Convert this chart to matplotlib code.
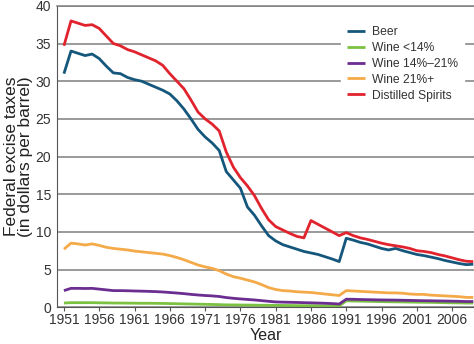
import matplotlib
matplotlib.use("Agg")
from matplotlib import pyplot as plt
import numpy as np

years = list(range(1951, 2010))

beer = [31.0, 34.0, 33.7, 33.4, 33.6, 33.0, 32.0, 31.1, 31.0, 30.5,
        30.2, 30.0, 29.6, 29.2, 28.8, 28.3, 27.4, 26.3, 25.0, 23.6,
        22.6, 21.8, 20.8, 18.0, 16.9, 15.8, 13.3, 12.2, 10.8, 9.5,
        8.8, 8.3, 8.0, 7.7, 7.4, 7.2, 7.0, 6.7, 6.4, 6.05,
        9.15, 8.9, 8.6, 8.4, 8.1, 7.8, 7.6, 7.8, 7.5, 7.25,
        7.0, 6.85, 6.65, 6.45, 6.2, 6.0, 5.8, 5.65, 5.7]

wine_lt14 = [0.55, 0.6, 0.6, 0.6, 0.6, 0.58, 0.57, 0.55, 0.55, 0.54,
             0.53, 0.52, 0.52, 0.51, 0.5, 0.48, 0.46, 0.44, 0.42, 0.4,
             0.38, 0.36, 0.34, 0.31, 0.3, 0.29, 0.28, 0.27, 0.26, 0.25,
             0.24, 0.23, 0.22, 0.21, 0.2, 0.2, 0.19, 0.18, 0.17, 0.16,
             0.85, 0.82, 0.8, 0.78, 0.76, 0.74, 0.72, 0.71, 0.7, 0.68,
             0.66, 0.65, 0.64, 0.62, 0.6, 0.58, 0.57, 0.55, 0.55]

wine_14_21 = [2.2, 2.5, 2.5, 2.48, 2.5, 2.4, 2.3, 2.2, 2.2, 2.18,
              2.15, 2.13, 2.1, 2.07, 2.02, 1.95, 1.88, 1.8, 1.7, 1.62,
              1.55, 1.5, 1.42, 1.28, 1.18, 1.1, 1.03, 0.96, 0.87, 0.78,
              0.7, 0.67, 0.65, 0.63, 0.6, 0.58, 0.55, 0.52, 0.48, 0.42,
              1.06, 1.05, 1.02, 1.0, 0.98, 0.96, 0.95, 0.94, 0.92, 0.9,
              0.88, 0.86, 0.85, 0.83, 0.82, 0.8, 0.78, 0.75, 0.75]

wine_21 = [7.7, 8.5, 8.4, 8.25, 8.4, 8.2, 7.95, 7.8, 7.7, 7.6,
           7.45, 7.35, 7.25, 7.15, 7.05, 6.85, 6.6, 6.3, 5.95, 5.6,
           5.35, 5.15, 4.85, 4.4, 4.05, 3.85, 3.6, 3.35, 3.0, 2.6,
           2.35, 2.2, 2.15, 2.05, 2.0, 1.95, 1.85, 1.75, 1.65, 1.55,
           2.2, 2.15, 2.1, 2.05, 2.0, 1.95, 1.9, 1.9, 1.85, 1.75,
           1.7, 1.7, 1.6, 1.55, 1.5, 1.45, 1.4, 1.3, 1.3]

spirits = [34.7, 38.0, 37.7, 37.4, 37.5, 37.0, 36.0, 35.0, 34.7, 34.2,
           33.9, 33.5, 33.1, 32.7, 32.1, 31.0, 30.0, 29.0, 27.5, 25.9,
           25.0, 24.3, 23.4, 20.6, 18.6, 17.2, 16.1, 14.8, 13.1, 11.6,
           10.7, 10.25, 9.8, 9.4, 9.2, 11.5, 11.0, 10.5, 10.0, 9.5,
           9.9, 9.5, 9.2, 9.0, 8.75, 8.5, 8.3, 8.15, 8.0, 7.8,
           7.5, 7.4, 7.25, 7.0, 6.8, 6.55, 6.3, 6.1, 6.05]

series = [("Beer", beer, "#15577c"),
          ("Wine <14%", wine_lt14, "#7cc242"),
          ("Wine 14%\u201321%", wine_14_21, "#6b2d8f"),
          ("Wine 21%+", wine_21, "#f4aa48"),
          ("Distilled Spirits", spirits, "#e1232e")]

xticks = list(range(1951, 2010, 5))
yticks = list(range(0, 45, 5))

plt.rcParams['font.family'] = ['Liberation Sans', 'DejaVu Sans']

fig = plt.figure(figsize=(4.74, 3.44), dpi=100)
ax = fig.add_axes([0.12, 0.107, 0.88, 0.876])

for name, vals, col in series:
    ax.plot(years, vals, color=col, lw=2.0, label=name, solid_capstyle='butt')

ax.set_xlim(1950, 2009.1)
ax.set_ylim(0, 40)
ax.set_xticks(xticks)
ax.set_yticks(yticks)
ax.grid(axis='y', color='#7f7f7f', lw=1.1)
ax.set_axisbelow(True)

ax.spines['right'].set_visible(False)
ax.spines['top'].set_color('#7f7f7f')
ax.spines['top'].set_linewidth(1.1)
ax.spines['left'].set_color('#555555')
ax.spines['bottom'].set_color('#555555')

ax.tick_params(axis='x', length=3, width=0.8, color='#555555', pad=1,
               labelsize=10, labelcolor='#333333')
ax.tick_params(axis='y', length=0, pad=4, labelsize=10, labelcolor='#333333')

ax.set_xlabel('Year', fontsize=11.5, color='#222222', labelpad=1)
ax.set_ylabel('Federal excise taxes\n(in dollars per barrel)', fontsize=12.5,
              color='#222222', labelpad=2, linespacing=0.88)

leg = ax.legend(loc='upper left', bbox_to_anchor=(0.681, 0.953), fontsize=8.7,
                frameon=True, fancybox=False, framealpha=1, edgecolor='white',
                facecolor='white', handlelength=1.5, handletextpad=0.6,
                labelspacing=0.32, borderpad=0.5, borderaxespad=0)
for t in leg.get_texts():
    t.set_color('#333333')

fig.savefig('out.png', dpi=100)
